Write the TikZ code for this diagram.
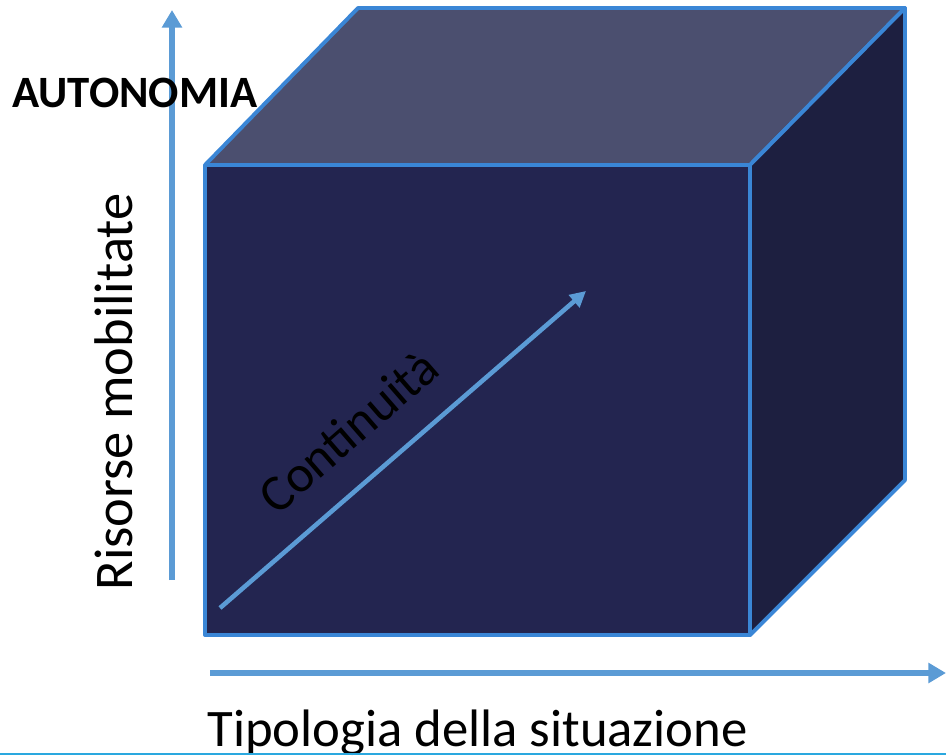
\documentclass[tikz,border=0pt]{standalone}
\usepackage{fontspec}
\setmainfont{Carlito}
\usepackage{xcolor}
\usepackage{tikz}
\usetikzlibrary{positioning,arrows.meta}

\definecolor{edgeblue}{HTML}{3A86D6}
\definecolor{axisblue}{HTML}{5B9BD5}
\definecolor{topface}{HTML}{4B4F6F}
\definecolor{frontface}{HTML}{232550}
\definecolor{sideface}{HTML}{1D1F40}
\definecolor{borderline}{HTML}{2AA8DF}

\begin{document}
\begin{tikzpicture}[x=0.02cm, y=0.02cm]
    \useasboundingbox (0,0) rectangle (946,755);

    % Cube corners
    \coordinate (fbl) at (205,120);
    \coordinate (fbr) at (750,120);
    \coordinate (ftr) at (750,590);
    \coordinate (ftl) at (205,590);
    \coordinate (btl) at (358,747);
    \coordinate (btr) at (905,747);
    \coordinate (bbr) at (905,275);

    % Faces
    \draw[edgeblue, line width=2.2pt, fill=topface, line join=round] (ftl) -- (btl) -- (btr) -- (ftr) -- cycle;
    \draw[edgeblue, line width=2.2pt, fill=sideface, line join=round] (fbr) -- (ftr) -- (btr) -- (bbr) -- cycle;
    \draw[edgeblue, line width=2.2pt, fill=frontface, line join=round] (fbl) rectangle (ftr);

    % Axes
    \coordinate (ybot) at (172,175);
    \coordinate (ytop) at (172,745);
    \coordinate (xleft) at (210,82);
    \coordinate (xright) at (946,82);
    \draw[axisblue, line width=3.4pt, -{Triangle[length=10pt, width=11pt]}] (ybot) -- (ytop);
    \draw[axisblue, line width=3.4pt, -{Triangle[length=10pt, width=11pt]}] (xleft) -- (xright);

    % Diagonal
    \coordinate (dstart) at (220,147);
    \coordinate (dend) at (586,464);
    \draw[axisblue, line width=2.6pt, -{Triangle[length=9pt, width=9pt]}] (dstart) -- (dend);

    % Labels
    \node[anchor=base west, inner sep=0pt, font=\fontsize{25.5}{30}\selectfont\bfseries] (auto) at (12,647) {AUTONOMIA};
    \node[rotate=90, inner sep=0pt, font=\fontsize{31}{37}\selectfont] (risorse) at (114,363) {Risorse mobilitate};
    \node[anchor=base west, inner sep=0pt, font=\fontsize{30}{36}\selectfont] (tipo) at (207,9) {Tipologia della situazione};
    \node[rotate=41, inner sep=0pt, font=\fontsize{29.5}{35}\selectfont] (cont) at (348,324) {Continuità};

    % Bottom border
    \draw[borderline, line width=1.5pt] (0,1) -- (946,1);
\end{tikzpicture}
\end{document}
